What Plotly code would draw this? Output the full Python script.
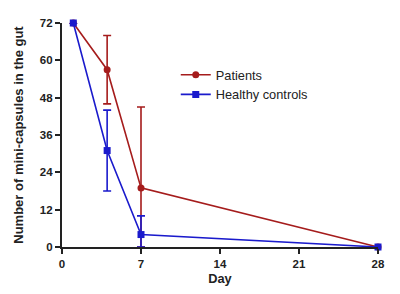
import plotly.graph_objects as go

days = [1, 4, 7, 28]
patients = [72, 57, 19, 0]
patients_sd_up = [0, 11, 26, 0]
patients_sd_down = [0, 11, 19, 0]
controls = [72, 31, 4, 0]
controls_sd_up = [0, 13, 6, 0]
controls_sd_down = [0, 13, 4, 0]
x_ticks = [0, 7, 14, 21, 28]
y_ticks = [0, 12, 24, 36, 48, 60, 72]

RED = "#A51C1C"
BLUE = "#1A1ACC"
FONT = "Liberation Sans, Arial, sans-serif"

fig = go.Figure()
fig.add_trace(go.Scatter(
    x=days, y=patients, name="Patients", mode="lines+markers",
    line=dict(color=RED, width=1.6),
    marker=dict(symbol="circle", size=7, color=RED),
    error_y=dict(type="data", symmetric=False, array=patients_sd_up,
                 arrayminus=patients_sd_down, color=RED, thickness=1.6, width=4),
    cliponaxis=False,
))
fig.add_trace(go.Scatter(
    x=days, y=controls, name="Healthy controls", mode="lines+markers",
    line=dict(color=BLUE, width=1.6),
    marker=dict(symbol="square", size=7, color=BLUE),
    error_y=dict(type="data", symmetric=False, array=controls_sd_up,
                 arrayminus=controls_sd_down, color=BLUE, thickness=1.6, width=4),
    cliponaxis=False,
))

# page body has an 8px margin, so the figure is sized 392x286
fig.update_layout(
    width=392, height=286,
    margin=dict(l=54, r=22, t=15, b=47, autoexpand=False),
    paper_bgcolor="white", plot_bgcolor="white",
    font=dict(family=FONT, color="#222"),
    showlegend=True,
    legend=dict(x=0.36, y=0.835, xanchor="left", yanchor="top",
                font=dict(size=12.8, family=FONT, color="#222"),
                bgcolor="rgba(0,0,0,0)", tracegroupgap=4),
    xaxis=dict(range=[0, 28], tickvals=x_ticks, showgrid=False, zeroline=False,
               automargin=False,
               showline=True, linecolor="#222", linewidth=2.2,
               ticks="outside", ticklen=5, tickwidth=1.5, tickcolor="#222",
               tickfont=dict(size=11.5, family=FONT, color="#222", weight=700),
               title=dict(text="Day", font=dict(size=12.8, family=FONT, color="#222", weight=700), standoff=5)),
    yaxis=dict(range=[0, 72], tickvals=y_ticks, showgrid=False, zeroline=False,
               automargin=False,
               showline=True, linecolor="#222", linewidth=2.2,
               ticks="outside", ticklen=5, tickwidth=1.5, tickcolor="#222",
               tickfont=dict(size=11.5, family=FONT, color="#222", weight=700),
               title=dict(text="Number of mini-capsules in the gut",
                          font=dict(size=13, family=FONT, color="#222", weight=700), standoff=13)),
)

fig.write_html("out.html")
